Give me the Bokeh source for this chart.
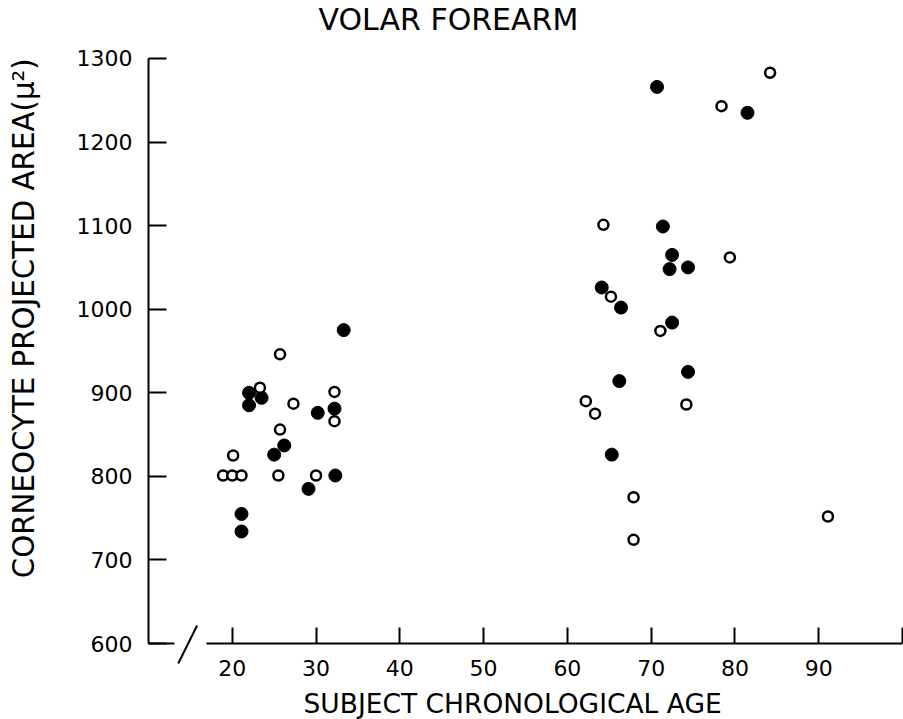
import math
from bokeh.plotting import figure
from bokeh.models import FixedTicker, Arrow, Range1d, Label
from bokeh.embed import file_html
from bokeh.resources import INLINE

# Filled circles
filled_age = [22.0, 23.5, 22.0, 32.2, 30.2, 26.2, 25.0, 32.3, 29.1, 21.1, 21.1, 33.3,
              70.7, 81.5, 71.4, 72.5, 72.2, 74.4, 64.1, 66.4, 72.5, 74.4, 66.2, 65.3]
filled_area = [900, 894, 885, 881, 876, 837, 826, 801, 785, 755, 734, 975,
               1266, 1235, 1099, 1065, 1048, 1050, 1026, 1002, 984, 925, 914, 826]

# Open circles
open_age = [25.7, 23.3, 27.3, 32.2, 32.2, 25.7, 20.1, 18.9, 20.0, 21.1, 25.5, 30.0,
            84.2, 78.4, 64.3, 79.4, 65.2, 71.1, 62.2, 63.3, 74.2, 67.9, 67.9, 91.1]
open_area = [946, 906, 887, 901, 866, 856, 825, 801, 801, 801, 801, 801,
             1283, 1243, 1101, 1062, 1015, 974, 890, 875, 886, 775, 724, 752]

x_ticks = [20, 30, 40, 50, 60, 70, 80, 90, 100]
y_ticks = [600, 700, 800, 900, 1000, 1100, 1200, 1300]

FONT = "DejaVu Sans"

# whole canvas is the frame; axes are pinned at age 10 / area 600
p = figure(width=903, height=719, x_range=Range1d(-7.666, 100.12),
           y_range=Range1d(509.06, 1369.4),
           output_backend="svg", toolbar_location=None,
           min_border_left=0, min_border_right=0, min_border_top=0, min_border_bottom=0)
p.background_fill_color = "white"
p.border_fill_color = "white"
p.outline_line_color = None
p.xgrid.visible = False
p.ygrid.visible = False

for ax in (p.xaxis[0], p.yaxis[0]):
    ax.axis_line_width = 2
    ax.axis_line_color = "black"
    ax.major_tick_line_width = 2
    ax.major_tick_line_color = "black"
    ax.major_tick_out = 0
    ax.minor_tick_line_color = None
    ax.major_label_text_font = FONT
    ax.major_label_text_font_size = "22px"
    ax.major_label_text_color = "black"

p.xaxis.fixed_location = 600
p.xaxis.ticker = FixedTicker(ticks=x_ticks)
p.xaxis.major_label_overrides = {100: ""}
p.xaxis.bounds = (16.9, 100)
p.xaxis.major_tick_in = 16
p.xaxis.major_label_standoff = 16

p.yaxis.fixed_location = 10
p.yaxis.ticker = FixedTicker(ticks=y_ticks)
p.yaxis.bounds = (600, 1300)
p.yaxis.major_tick_in = 18
p.yaxis.major_label_standoff = 16

# Axis break marks
p.add_layout(Arrow(end=None, start=None, x_start=10, y_start=600, x_end=13.1, y_end=600,
                   line_width=2, line_color="black"))
p.add_layout(Arrow(end=None, start=None, x_start=13.55, y_start=576, x_end=15.8, y_end=621.5,
                   line_width=2, line_color="black"))

# Texts
p.add_layout(Label(x=30.29, y=1346.5, text="VOLAR FOREARM", text_font=FONT,
                   text_font_size="30px", text_align="left", text_baseline="alphabetic",
                   text_color="black"))
p.add_layout(Label(x=-4.86, y=678, text="CORNEOCYTE PROJECTED AREA(\u03bc\u00b2)",
                   angle=math.pi / 2, text_font=FONT, text_font_size="29.3px",
                   text_align="left", text_baseline="middle", text_color="black"))
p.add_layout(Label(x=28.5, y=528.2, text="SUBJECT CHRONOLOGICAL AGE", text_font=FONT,
                   text_font_size="26.5px", text_align="left", text_baseline="alphabetic",
                   text_color="black"))

p.scatter(filled_age, filled_area, size=13, marker="circle",
          fill_color="black", line_color="black", line_width=1)
p.scatter(open_age, open_area, size=10, marker="circle",
          fill_color="white", line_color="black", line_width=2.5)

open("out.html", "w").write(file_html(p, INLINE))
